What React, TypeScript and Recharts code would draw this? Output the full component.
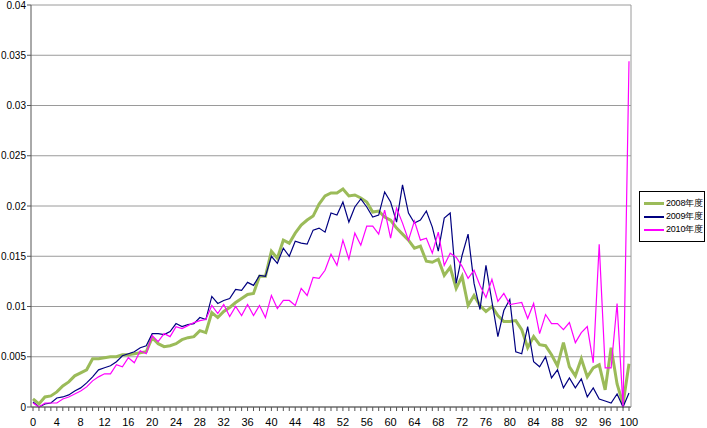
import React from "react";
import {
  LineChart,
  Line,
  XAxis,
  YAxis,
  CartesianGrid,
  Legend,
} from "recharts";

// score 0..100, share of students per year
const scores = Array.from({ length: 101 }, (_, i) => i);

const fy2008 = [
  0.0008, 0.0003, 0.001, 0.0011, 0.0015, 0.0021, 0.0025, 0.0031, 0.0034, 0.0037,
  0.0048, 0.0048, 0.0049, 0.005, 0.005, 0.0052, 0.0052, 0.0053, 0.0054, 0.0055,
  0.0069, 0.0063, 0.006, 0.0061, 0.0063, 0.0067, 0.0069, 0.007, 0.0076, 0.0074,
  0.0094, 0.0089, 0.0095, 0.0099, 0.0104, 0.0108, 0.0112, 0.0113, 0.013, 0.013,
  0.0155, 0.0148, 0.0166, 0.0163, 0.0173, 0.0181, 0.0186, 0.019, 0.0202, 0.021,
  0.0213, 0.0213, 0.0217, 0.021, 0.0211, 0.0208, 0.0204, 0.0194, 0.0195, 0.0189,
  0.0186, 0.0178, 0.0172, 0.0166, 0.0158, 0.016, 0.0145, 0.0144, 0.0147, 0.0131,
  0.0139, 0.0118, 0.013, 0.0101, 0.0111, 0.0101, 0.0095, 0.01, 0.0091, 0.0085,
  0.0085, 0.0086, 0.0077, 0.0059, 0.007, 0.0062, 0.0061, 0.0052, 0.0041, 0.0064,
  0.004, 0.0031, 0.0048, 0.003, 0.0039, 0.0042, 0.0017, 0.0059, 0.0023, 0.0003,
  0.0043,
];

const fy2009 = [
  0.0005, 0, 0.0003, 0.0004, 0.0009, 0.001, 0.0012, 0.0016, 0.0019, 0.0024,
  0.003, 0.0037, 0.0039, 0.0041, 0.0045, 0.0051, 0.0053, 0.0055, 0.0059, 0.0061,
  0.0073, 0.0073, 0.0072, 0.0075, 0.0083, 0.008, 0.0082, 0.0083, 0.0089, 0.0087,
  0.011, 0.0103, 0.0106, 0.0108, 0.0117, 0.0116, 0.0124, 0.0121, 0.0131, 0.013,
  0.015, 0.0143, 0.0158, 0.015, 0.0165, 0.0163, 0.0162, 0.0176, 0.0178, 0.0174,
  0.0193, 0.0191, 0.0204, 0.0184, 0.0199, 0.0207, 0.0199, 0.0189, 0.0191, 0.0214,
  0.0204, 0.0184, 0.0221, 0.0193, 0.0183, 0.0186, 0.0195, 0.0179, 0.0155, 0.0188,
  0.0193, 0.0123, 0.0151, 0.0172, 0.0123, 0.0097, 0.0141, 0.0105, 0.007, 0.0096,
  0.0107, 0.0055, 0.0053, 0.008, 0.0045, 0.004, 0.005, 0.0029, 0.0037, 0.0019,
  0.0029, 0.0019, 0.0028, 0.001, 0.0019, 0.0008, 0.0006, 0.0004, 0.0013, 0,
  0.0014,
];

const fy2010 = [
  0.0004, 0, 0.0004, 0.0004, 0.0004, 0.0008, 0.001, 0.0013, 0.0016, 0.002,
  0.0026, 0.003, 0.0033, 0.0033, 0.0042, 0.004, 0.0049, 0.0044, 0.0056, 0.0053,
  0.0071, 0.0065, 0.0073, 0.007, 0.008, 0.0078, 0.0081, 0.0084, 0.0086, 0.0087,
  0.0101, 0.0093, 0.0102, 0.009, 0.01, 0.0091, 0.0102, 0.0091, 0.0101, 0.0089,
  0.0111, 0.0098, 0.0106, 0.0106, 0.0101, 0.0118, 0.0111, 0.0129, 0.0128, 0.0136,
  0.0152, 0.0141, 0.0166, 0.0147, 0.0173, 0.0161, 0.018, 0.018, 0.0172, 0.0196,
  0.0168, 0.0198, 0.0183, 0.0166, 0.0185, 0.0166, 0.0168, 0.0153, 0.0174, 0.0141,
  0.0153, 0.0149, 0.014, 0.0128, 0.0136, 0.0121, 0.0109, 0.0127, 0.0105, 0.0113,
  0.0102, 0.0103, 0.0104, 0.0088, 0.0103, 0.0073, 0.0092, 0.0083, 0.0083, 0.0077,
  0.0084, 0.0064, 0.0074, 0.008, 0.0044, 0.0162, 0.0039, 0.0039, 0.0103, 0,
  0.0344,
];

const yTicks = [0, 0.005, 0.01, 0.015, 0.02, 0.025, 0.03, 0.035, 0.04];

const series = [
  { key: "fy2008", name: "2008年度", color: "#9BBB59", width: 3 },
  { key: "fy2009", name: "2009年度", color: "#000080", width: 1.2 },
  { key: "fy2010", name: "2010年度", color: "#FF00FF", width: 1.2 },
];

const data = scores.map((s, i) => ({
  score: s,
  fy2008: fy2008[i],
  fy2009: fy2009[i],
  fy2010: fy2010[i],
}));

const FONT = "'Liberation Sans', Arial, sans-serif";

function XTick(props: any) {
  const { x, y, payload } = props;
  if (payload.value % 4 !== 0) return null;
  return (
    <text x={x} y={y} dy={13} textAnchor="middle" fontSize={11} fill="#000" fontFamily={FONT}>
      {payload.value}
    </text>
  );
}

function LegendBox() {
  return (
    <div
      style={{
        border: "1px solid #000",
        background: "#fff",
        padding: "5px 0 5px 4px",
        fontFamily: FONT,
        fontSize: 9,
        lineHeight: "13px",
        whiteSpace: "nowrap",
      }}
    >
      {series.map((s) => (
        <div key={s.key} style={{ display: "flex", alignItems: "center" }}>
          <span
            style={{
              display: "inline-block",
              width: 20,
              height: s.width === 3 ? 3 : 2,
              background: s.color,
              marginRight: 2,
            }}
          />
          <span style={{ letterSpacing: -0.2 }}>{s.name}</span>
        </div>
      ))}
    </div>
  );
}

export default function App() {
  return (
    <div style={{ position: "absolute", left: 0, top: 0, background: "#fff" }}>
      <LineChart
        width={707}
        height={428}
        data={data}
        margin={{ top: 5, right: 75, bottom: 0, left: 0 }}
      >
        <CartesianGrid vertical={false} stroke="#9a9a9a" strokeWidth={1} />
        <XAxis
          dataKey="score"
          type="number"
          domain={[0, 100]}
          ticks={scores}
          interval={0}
          padding={{ left: 2, right: 2 }}
          tick={<XTick />}
          tickSize={4}
          tickLine={{ stroke: "#555" }}
          axisLine={{ stroke: "#555" }}
          height={21}
        />
        <YAxis
          domain={[0, 0.04]}
          ticks={yTicks}
          interval={0}
          width={31}
          tickSize={4}
          tickMargin={1}
          tickLine={{ stroke: "#555" }}
          axisLine={{ stroke: "#555" }}
          tick={{ fontSize: 10, fill: "#000", fontFamily: FONT }}
          tickFormatter={(v: number) => String(v)}
        />
        <YAxis
          yAxisId="frame"
          orientation="right"
          domain={[0, 0.04]}
          width={1}
          tick={false}
          tickLine={false}
          axisLine={{ stroke: "#9a9a9a" }}
        />
        <Legend
          layout="vertical"
          align="center"
          verticalAlign="middle"
          content={<LegendBox />}
          wrapperStyle={{ left: 639, top: 191, width: 66 }}
        />
        {series.map((s) => (
          <Line
            key={s.key}
            dataKey={s.key}
            name={s.name}
            stroke={s.color}
            strokeWidth={s.width}
            dot={false}
            type="linear"
            isAnimationActive={false}
          />
        ))}
      </LineChart>
    </div>
  );
}
